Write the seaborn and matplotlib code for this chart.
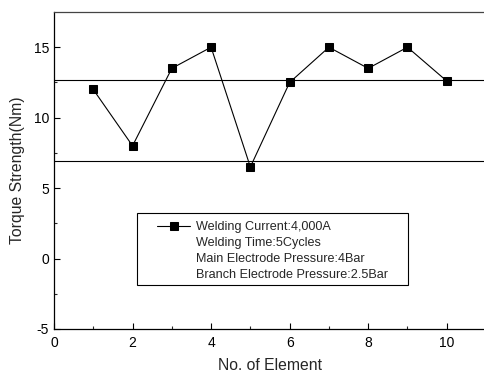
import matplotlib
matplotlib.use("Agg")
import matplotlib.pyplot as plt
from matplotlib.patches import Rectangle
import seaborn as sns
import numpy as np

# Data
elements = [1, 2, 3, 4, 5, 6, 7, 8, 9, 10]
torque = [12.0, 8.0, 13.5, 15.0, 6.5, 12.5, 15.0, 13.5, 15.0, 12.6]
upper_limit = 12.7
lower_limit = 6.9
legend_lines = [
    "Welding Current:4,000A",
    "Welding Time:5Cycles",
    "Main Electrode Pressure:4Bar",
    "Branch Electrode Pressure:2.5Bar",
]

sns.set_theme(style="ticks")
plt.rcParams['font.family'] = ['Liberation Sans', 'DejaVu Sans']
plt.rcParams['axes.unicode_minus'] = False

fig = plt.figure(figsize=(4.84, 3.72), dpi=100)
ax = fig.add_axes([54 / 484, 43 / 372, 432 / 484, 317 / 372])

sns.lineplot(x=elements, y=torque, ax=ax, color="black", linewidth=0.8,
             marker="s", markersize=5.3, markeredgecolor="black",
             label=legend_lines[0])
ax.axhline(upper_limit, color="black", linewidth=0.8)
ax.axhline(lower_limit, color="black", linewidth=0.8)

ax.set_xlim(0, 11)
ax.set_ylim(-5, 17.5)
ax.set_xticks(np.arange(0, 11, 2))
ax.set_xticks(np.arange(1, 11, 2), minor=True)
ax.set_yticks(np.arange(-5, 16, 5))
ax.set_yticks(np.arange(-2.5, 17.5, 5), minor=True)
ax.tick_params(axis="both", which="major", direction="in", length=4,
               width=0.8, labelsize=10, colors="black")
ax.tick_params(axis="both", which="minor", direction="in", length=2.5,
               width=0.8)
ax.tick_params(axis="x", pad=5)
for side in ["left", "bottom", "top"]:
    ax.spines[side].set_linewidth(0.9)
    ax.spines[side].set_color("black")
ax.spines["top"].set_color("#444444")
ax.spines["right"].set_visible(False)

ax.set_xlabel("No. of Element", fontsize=11.3, labelpad=6)
ax.set_ylabel("Torque Strength(Nm)", fontsize=11.3, labelpad=6)

# legend text without its own frame; box drawn separately
handles, labels = ax.get_legend_handles_labels()
blank = [plt.Line2D([], [], linestyle="none") for _ in legend_lines[1:]]
leg = ax.legend(handles=handles + blank, labels=legend_lines,
                loc="upper left", bbox_to_anchor=(0.239, 0.34),
                fontsize=9.1, frameon=False, handlelength=2.6,
                handletextpad=0.45, borderpad=0.0, borderaxespad=0.0,
                labelspacing=0.32)
ax.add_patch(Rectangle((83 / 432, 44 / 317), 271 / 432, 72 / 317,
                       transform=ax.transAxes, fill=False,
                       edgecolor="black", linewidth=0.8, zorder=4))

fig.savefig("out.png", dpi=100)
